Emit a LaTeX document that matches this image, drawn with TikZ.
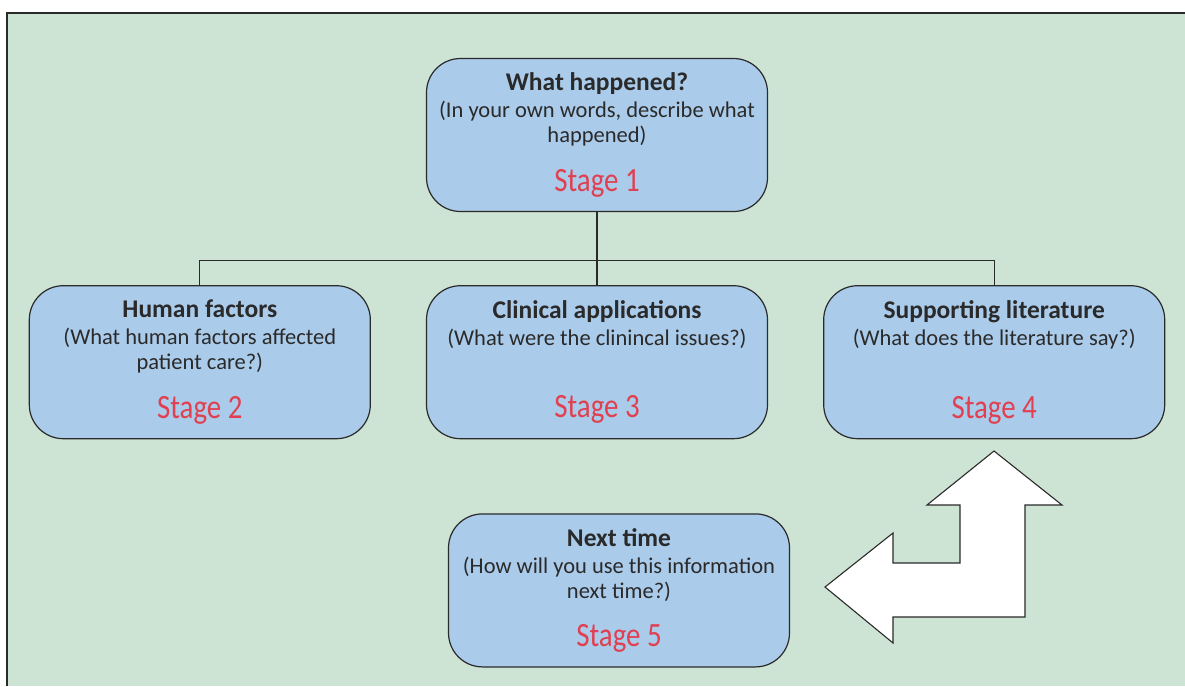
\documentclass[tikz,border=0pt]{standalone}
\usepackage{fontspec}
\setmainfont{Carlito}
\newfontfamily\stagefont{Carlito}[FakeStretch=0.85]
\usetikzlibrary{positioning}

\definecolor{paper}{HTML}{CDE3D4}
\definecolor{boxblue}{HTML}{AACBEA}
\definecolor{stagered}{HTML}{E0404F}
\definecolor{ink}{HTML}{2A2A2A}

\newcommand{\stagetext}[4]{%
  {\bfseries\fontsize{25.5}{27}\selectfont #1}\\[2pt]#2\\[#4]%
  {\color{stagered}\stagefont\fontsize{34}{34}\selectfont #3}}

\begin{document}
\begin{tikzpicture}[x=1pt,y=-1pt,
    stagebox/.style={draw=ink, fill=boxblue, line width=1.2pt,
      rounded corners=34pt, minimum width=341pt, minimum height=153pt,
      align=center, text=ink, font=\fontsize{22.5}{25}\selectfont},
    link/.style={draw=ink, line width=1.1pt}]
  \useasboundingbox (0,0) rectangle (1185,686);
  % frame
  \fill[paper] (7,13) rectangle (1185,686);
  \draw[ink, line width=1.6pt] (7,686) -- (7,13) -- (1185,13);

  \node[stagebox] (happened) at (597,135)
    {\stagetext{What happened?}{(In your own words, describe what\\happened)}{Stage 1}{22pt}};
  \node[stagebox, below=73pt of happened] (clinical)
    {\stagetext{Clinical applications}{(What were the clinincal issues?)}{Stage 3}{46pt}};
  \node[stagebox, left=55pt of clinical] (human)
    {\stagetext{Human factors}{(What human factors affected\\patient care?)}{Stage 2}{22pt}};
  \node[stagebox, right=55pt of clinical] (literature)
    {\stagetext{Supporting literature}{(What does the literature say?)}{Stage 4}{46pt}};
  \node[stagebox, below=74pt of clinical, xshift=22pt] (nexttime)
    {\stagetext{Next time}{(How will you use this information\\next time?)}{Stage 5}{22pt}};

  % tree links
  \draw[link] (happened.south) -- ++(0,48) coordinate (split);
  \draw[link] (human.north) |- (split) -| (literature.north);
  \draw[link] (split) -- (clinical.north);

  % bent arrow
  \draw[ink, fill=white, line width=1.1pt, line join=miter]
    (994,451) -- (1062,505) -- (1025,505) -- (1025,617) -- (893,617)
    -- (893,643) -- (825,587) -- (893,533) -- (893,563) -- (960,563)
    -- (960,505) -- (927,505) -- cycle;
\end{tikzpicture}
\end{document}
